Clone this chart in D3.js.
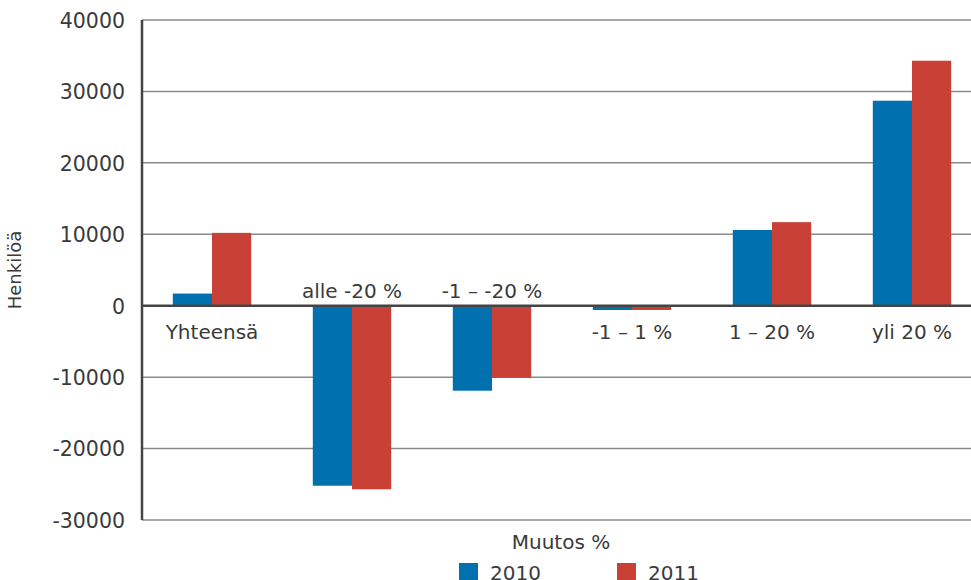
<!DOCTYPE html>
<html><head><meta charset="utf-8">
<script src="https://cdnjs.cloudflare.com/ajax/libs/d3/7.8.5/d3.min.js"></script>
<style>body{margin:0;background:#fff}text{font-family:"DejaVu Sans",sans-serif;fill:#3a3a3a}</style>
</head><body><svg id="c" width="971" height="580"></svg>
<script>
const categories = ["Yhteensä","alle -20 %","-1 – -20 %","-1 – 1 %","1 – 20 %","yli 20 %"];
const seriesNames = ["2010","2011"];
const values2010 = [1700,-25200,-11900,-600,10600,28700];
const values2011 = [10200,-25700,-10100,-600,11700,34300];
const yTicks = [-30000,-20000,-10000,0,10000,20000,30000,40000];
const colors = ["#0070ae","#c94136"];

const svg = d3.select("#c");
const m = {l:142, r:971, t:20, b:520};
const x = d3.scaleBand().domain(categories).range([m.l, 982]).paddingInner(0.44).paddingOuter(0.22);
const xs = d3.scaleBand().domain(seriesNames).range([0, x.bandwidth()]);
const y = d3.scaleLinear().domain([-30000,40000]).range([m.b, m.t]);

// gridlines
svg.append("g").selectAll("line").data(yTicks.filter(d=>d!==0)).join("line")
  .attr("x1", m.l).attr("x2", m.r).attr("y1", d=>y(d)).attr("y2", d=>y(d))
  .attr("stroke","#8a8a8a").attr("stroke-width",1.5);

// y axis tick labels
const yAxis = d3.axisLeft(y).tickValues(yTicks).tickSize(0).tickPadding(17).tickFormat(d=>String(d));
const ga = svg.append("g").attr("transform",`translate(${m.l},0)`).call(yAxis);
ga.select(".domain").remove();
ga.selectAll("text").style("font-size","20.5px").style("font-family","'DejaVu Sans',sans-serif").attr("fill","#3a3a3a").attr("dy","0.36em");

// bars
const data = categories.map((c,i)=>({c, v:[values2010[i], values2011[i]]}));
const groups = svg.append("g").selectAll("g").data(data).join("g")
  .attr("transform", d=>`translate(${x(d.c)},0)`);
groups.selectAll("rect").data(d=>d.v.map((v,j)=>({v, s:seriesNames[j], j}))).join("rect")
  .attr("x", d=>xs(d.s)).attr("width", xs.bandwidth())
  .attr("y", d=>y(Math.max(0,d.v))).attr("height", d=>Math.abs(y(d.v)-y(0)))
  .attr("fill", d=>colors[d.j]);

// zero line and y axis line
svg.append("line").attr("x1", m.l).attr("x2", m.r).attr("y1", y(0)).attr("y2", y(0))
  .attr("stroke","#444").attr("stroke-width",2.5);
svg.append("line").attr("x1", m.l).attr("x2", m.l).attr("y1", m.t).attr("y2", m.b)
  .attr("stroke","#444").attr("stroke-width",2.5);

// category labels
svg.append("g").selectAll("text").data(data).join("text")
  .attr("x", d=>x(d.c)+x.bandwidth()/2)
  .attr("y", d=> (d.v[0] < -1000) ? y(0)-8 : y(0)+33)
  .attr("text-anchor","middle").style("font-size","20px")
  .text(d=>d.c);

// axis titles
svg.append("text").attr("transform",`translate(21,${(m.t+m.b)/2}) rotate(-90)`)
  .attr("text-anchor","middle").style("font-size","18px").text("Henkilöä");
svg.append("text").attr("x",561).attr("y",549).attr("text-anchor","middle").style("font-size","20px").text("Muutos %");

// legend
const lg = svg.append("g").selectAll("g").data(seriesNames).join("g")
  .attr("transform",(d,i)=>`translate(${459+i*158},563)`);
lg.append("rect").attr("width",19).attr("height",17).attr("fill",(d,i)=>colors[i]);
lg.append("text").attr("x",31).attr("y",17).style("font-size","20px").text(d=>d);
</script></body></html>
